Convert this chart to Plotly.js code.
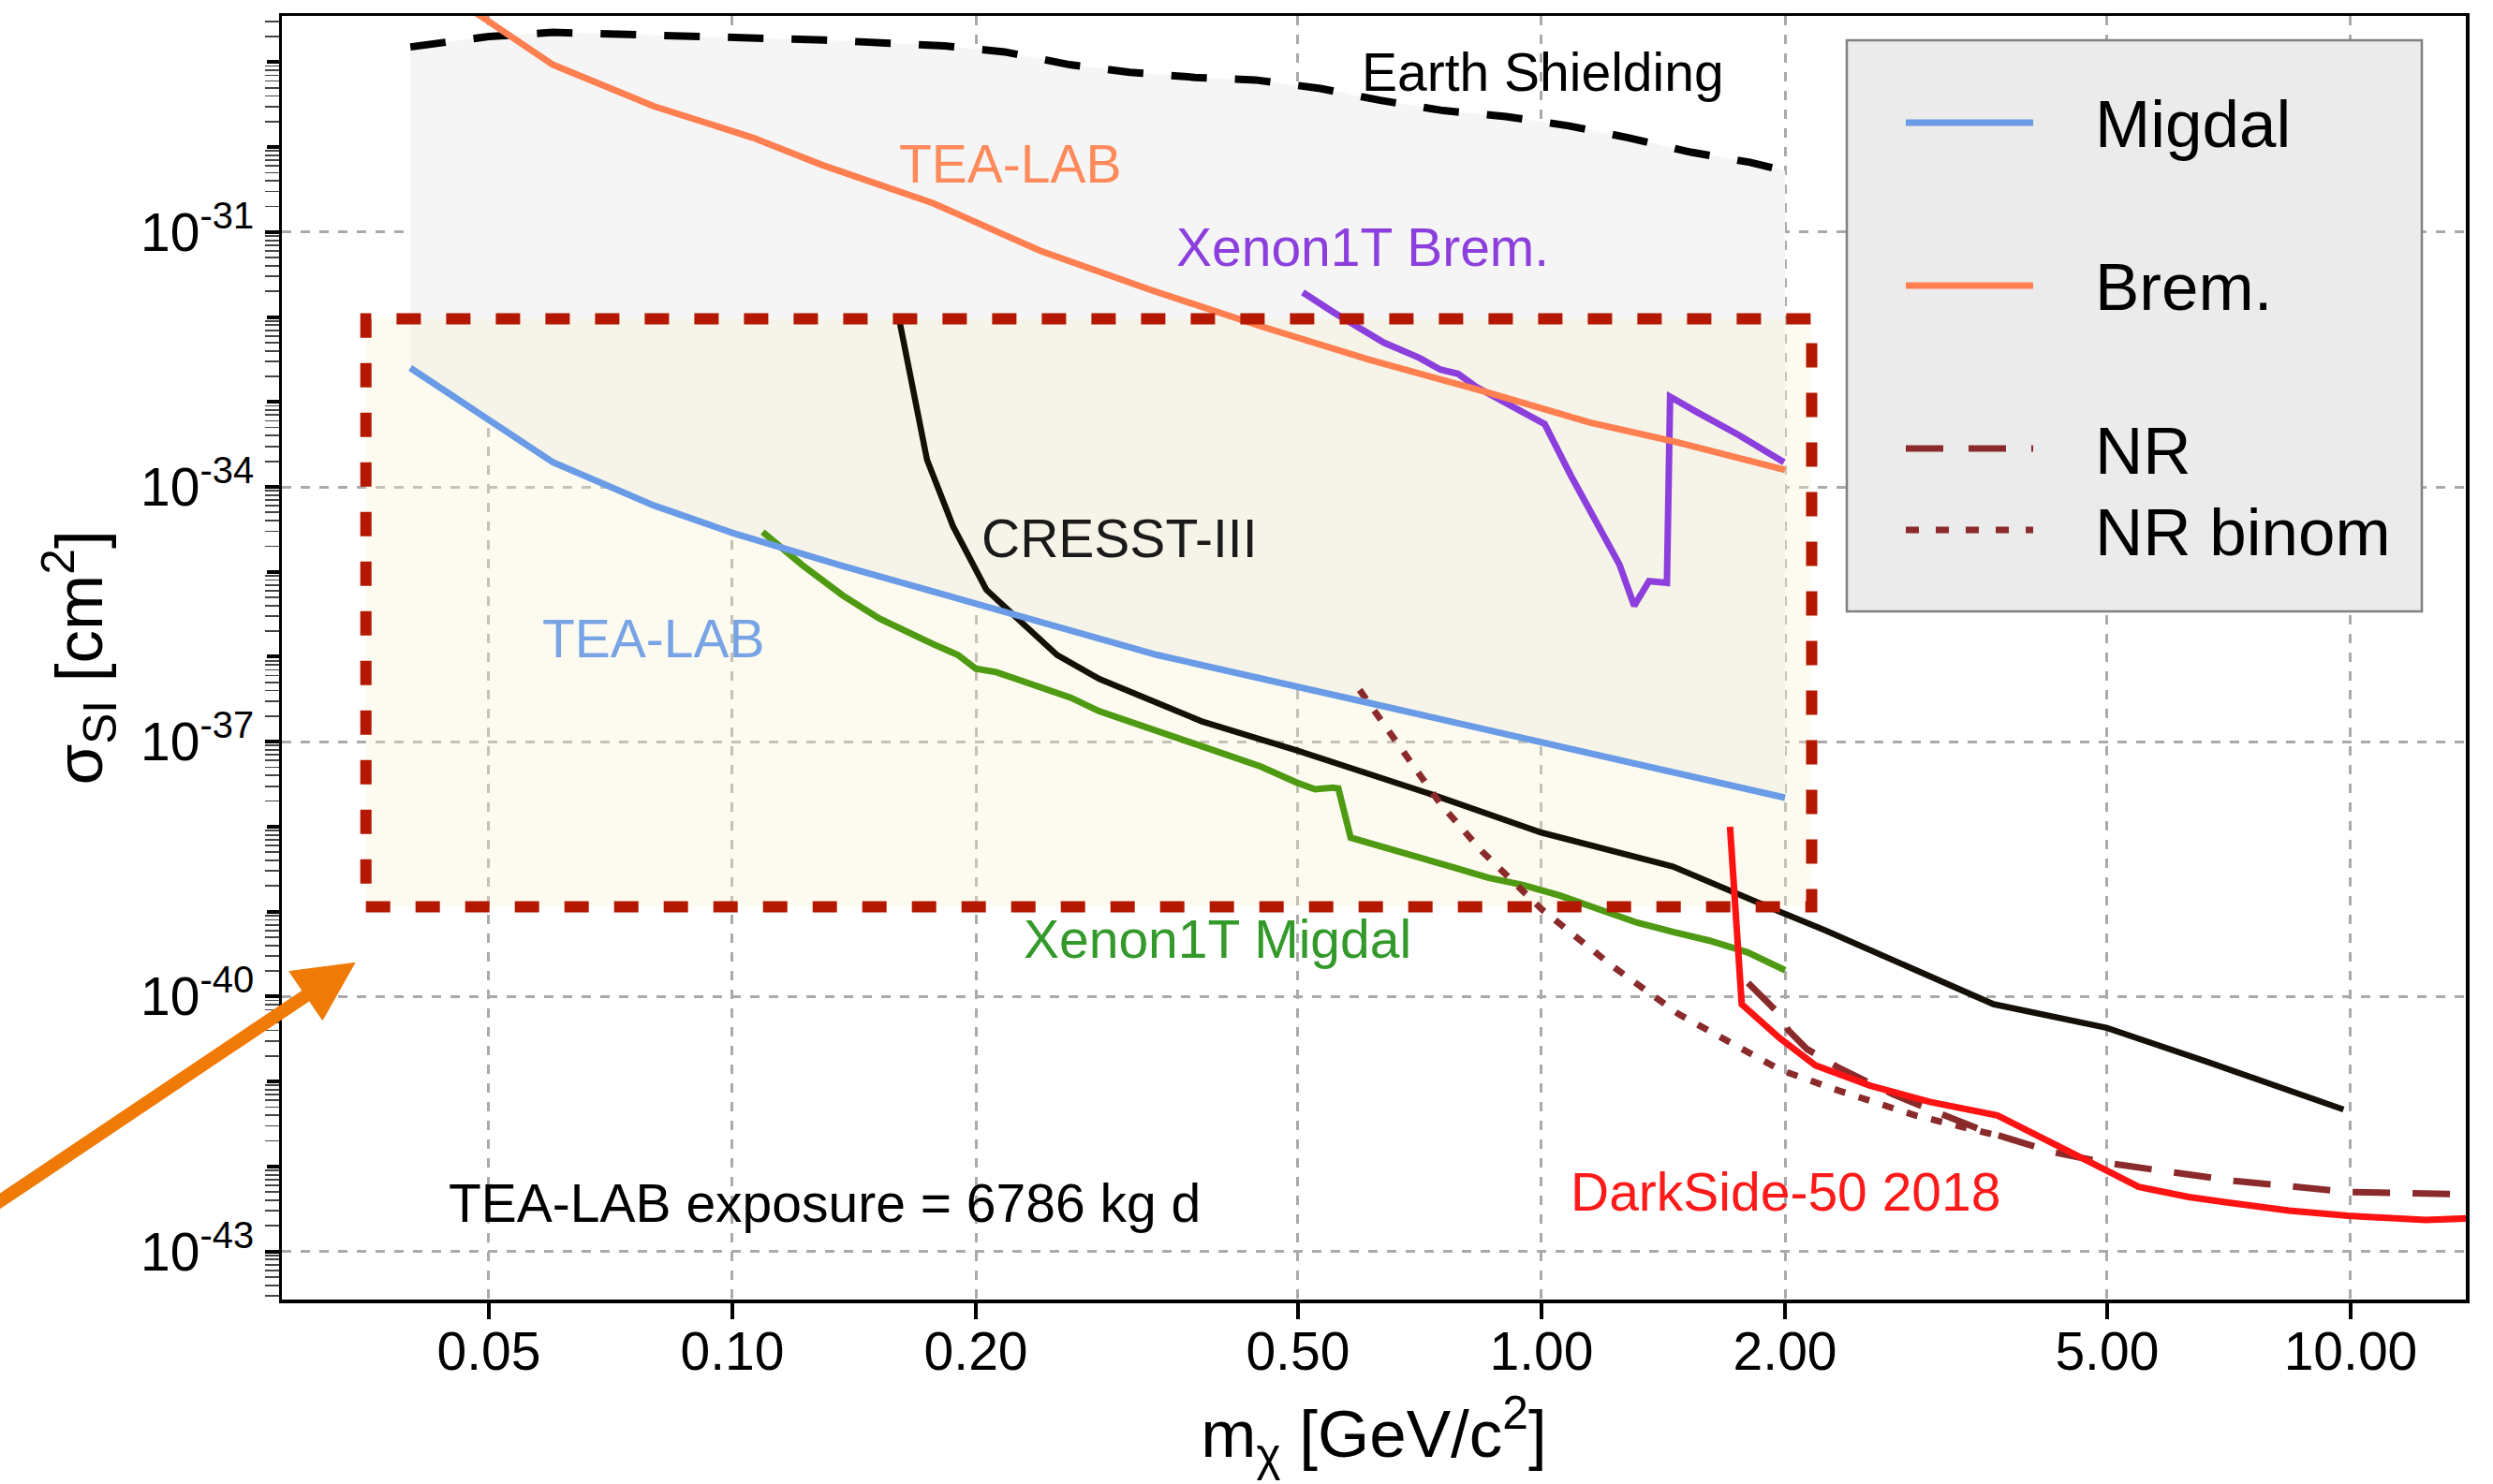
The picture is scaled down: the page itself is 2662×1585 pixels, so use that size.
<!DOCTYPE html>
<html>
<head>
<meta charset="utf-8">
<script src="https://cdn.plot.ly/plotly-3.0.1.min.js"></script>
<style>html,body{margin:0;padding:0;background:#fff;}#chart{width:2662px;height:1585px;}</style>
</head>
<body>
<div id="chart"></div>
<script>
// ---------------- data (m in GeV/c^2, sigma in cm^2) ----------------
const earthM = [0.04, 0.05, 0.06, 0.1, 0.13, 0.183, 0.217, 0.261, 0.31, 0.373, 0.443, 0.533, 0.632, 0.756, 0.904, 1.08, 1.28, 1.53, 1.81, 2.0];
const earthSigma = [1.51e-29, 2.00e-29, 2.24e-29, 1.95e-29, 1.82e-29, 1.55e-29, 1.32e-29, 9.33e-30, 7.59e-30, 6.61e-30, 6.17e-30, 4.90e-30, 3.55e-30, 2.69e-30, 2.29e-30, 1.78e-30, 1.29e-30, 8.71e-31, 6.61e-31, 5.25e-31];

const bremM = [0.04, 0.06, 0.08, 0.106, 0.129, 0.177, 0.24, 0.331, 0.45, 0.611, 0.844, 1.146, 1.479, 2.0];
const bremSigma = [1.26e-28, 9.33e-30, 3.02e-30, 1.29e-30, 6.17e-31, 2.19e-31, 6.03e-32, 2.04e-32, 7.76e-33, 3.16e-33, 1.35e-33, 5.75e-34, 3.31e-34, 1.58e-34];

const migdalM = [0.04, 0.06, 0.08, 0.1, 0.137, 0.217, 0.335, 0.61, 1.0, 2.0];
const migdalSigma = [2.51e-33, 1.95e-34, 6.03e-35, 2.88e-35, 1.17e-35, 3.31e-36, 1.05e-36, 2.88e-37, 9.77e-38, 2.19e-38];

const xenonMigdalM = [0.109, 0.122, 0.137, 0.152, 0.177, 0.19, 0.2, 0.212, 0.224, 0.244, 0.262, 0.284, 0.331, 0.37, 0.406, 0.45, 0.498, 0.525, 0.552, 0.561, 0.581, 0.64, 0.70, 0.78, 0.859, 0.95, 1.053, 1.17, 1.313, 1.45, 1.61, 1.8, 1.97, 2.0];
const xenonMigdalSigma = [2.95e-35, 1.20e-35, 5.25e-36, 2.82e-36, 1.41e-36, 1.05e-36, 7.24e-37, 6.60e-37, 5.50e-37, 4.07e-37, 3.30e-37, 2.29e-37, 1.38e-37, 1.00e-37, 7.24e-38, 5.10e-38, 3.31e-38, 2.75e-38, 2.88e-38, 2.82e-38, 7.41e-39, 5.60e-39, 4.47e-39, 3.30e-39, 2.51e-39, 2.05e-39, 1.55e-39, 1.10e-39, 7.41e-40, 5.80e-40, 4.57e-40, 3.30e-40, 2.24e-40, 2.04e-40];

const cresstM = [0.161, 0.174, 0.1875, 0.206, 0.228, 0.252, 0.284, 0.38, 0.498, 0.737, 1.0, 1.454, 1.97, 2.24, 3.62, 5.0, 6.65, 9.8];
const cresstSigma = [8.71e-33, 2.09e-34, 3.39e-35, 6.17e-36, 2.51e-36, 1.05e-36, 5.50e-37, 1.74e-37, 7.94e-38, 2.34e-38, 8.51e-39, 3.39e-39, 1.00e-39, 6.03e-40, 8.13e-41, 4.27e-41, 1.70e-41, 4.68e-42];

const xenonBremM = [0.507, 0.552, 0.638, 0.706, 0.75, 0.789, 0.83, 0.873, 0.984, 1.009, 1.089, 1.186, 1.248, 1.302, 1.358, 1.429, 1.442, 1.556, 1.754, 1.994];
const xenonBremSigma = [1.95e-32, 1.15e-32, 5.01e-33, 3.31e-33, 2.40e-33, 2.14e-33, 1.51e-33, 1.15e-33, 6.17e-34, 5.50e-34, 1.32e-34, 3.02e-35, 1.23e-35, 3.98e-36, 7.76e-36, 7.41e-36, 1.15e-33, 7.59e-34, 4.07e-34, 1.95e-34];

const darksideM = [1.71, 1.768, 1.97, 2.18, 2.55, 3.02, 3.66, 4.06, 5.0, 5.47, 6.31, 7.0, 8.39, 9.93, 12.38, 14.0];
const darksideSigma = [1.00e-38, 8.13e-41, 3.24e-41, 1.55e-41, 8.91e-42, 5.75e-42, 3.98e-42, 2.45e-42, 8.91e-43, 5.75e-43, 4.37e-43, 3.80e-43, 3.02e-43, 2.63e-43, 2.34e-43, 2.45e-43];

const nrM = [1.80, 1.97, 2.02, 2.13, 2.33, 2.72, 3.02, 3.52, 4.28, 5.0, 5.84, 7.18, 9.93, 14.0];
const nrSigma = [1.45e-40, 6.17e-41, 3.98e-41, 2.40e-41, 1.45e-41, 7.08e-42, 4.68e-42, 2.63e-42, 1.48e-42, 1.10e-42, 8.91e-43, 6.76e-43, 5.01e-43, 4.68e-43];

const nrBinomM = [0.596, 0.677, 0.75, 0.844, 1.0, 1.227, 1.479, 1.97, 2.30, 2.90, 3.60];
const nrBinomSigma = [4.07e-37, 7.24e-38, 1.86e-38, 5.13e-39, 1.07e-39, 2.24e-40, 6.17e-41, 1.38e-41, 8.13e-42, 3.98e-42, 2.40e-42];

// ticks
const xTickVals = [0.05, 0.1, 0.2, 0.5, 1, 2, 5, 10];
const xTickText = ['0.05', '0.10', '0.20', '0.50', '1.00', '2.00', '5.00', '10.00'];
const yTickVals = [1e-43, 1e-40, 1e-37, 1e-34, 1e-31];
const yTickText = ['10<sup>-43</sup>', '10<sup>-40</sup>', '10<sup>-37</sup>', '10<sup>-34</sup>', '10<sup>-31</sup>'];

// legend entries
const legendNames = ['Migdal', 'Brem.', 'NR', 'NR binom'];

// ---------------- layout geometry ----------------
const W = 2662, H = 1585;
const FRAME = {l: 301, r: 2633, t: 17, b: 1388};
const X_RANGE = [-1.5567, 1.1424];
const Y_RANGE = [-43.567, -28.456];
const px = X => (X - FRAME.l) / (FRAME.r - FRAME.l);
const py = Y => (FRAME.b - Y) / (FRAME.b - FRAME.t);
const dataX = X => Math.pow(10, X_RANGE[0] + px(X) * (X_RANGE[1] - X_RANGE[0]));
const dataY = Y => Math.pow(10, Y_RANGE[0] + py(Y) * (Y_RANGE[1] - Y_RANGE[0]));

const FONT = 'Liberation Sans, Arial, Helvetica, sans-serif';
const C = {
  migdal: '#6a9be6', brem: '#ff7f50', xbrem: '#8c3fdc', xmig: '#4e9a12',
  cresst: '#141008', ds: '#ff1212', nr: '#8b2a2a', box: '#b41800', arrow: '#ef7a06'
};

// highlight box (pixel frame of the slide overlay)
const BOX = {x0: 390.7, x1: 1934.5, y0: 340.5, y1: 968.6};

// minor log ticks
const minorVals = [];
for (let k = -44; k <= -28; k++) {
  for (let d = 2; d <= 9; d++) minorVals.push(d * Math.pow(10, k));
}
const decadeVals = [];
for (let k = -43; k <= -29; k++) decadeVals.push(Math.pow(10, k));

// ---------------- traces ----------------
const traces = [];
// grey region between Migdal and Earth shielding
traces.push({x: migdalM, y: migdalSigma, mode: 'lines', line: {width: 0}, showlegend: false, hoverinfo: 'skip'});
traces.push({x: earthM, y: earthSigma, mode: 'lines', line: {width: 0}, fill: 'tonexty', fillcolor: '#f5f5f5', showlegend: false, hoverinfo: 'skip'});
// translucent highlight box fill
traces.push({
  x: [dataX(BOX.x0), dataX(BOX.x1), dataX(BOX.x1), dataX(BOX.x0), dataX(BOX.x0)],
  y: [dataY(BOX.y1), dataY(BOX.y1), dataY(BOX.y0), dataY(BOX.y0), dataY(BOX.y1)],
  mode: 'lines', line: {width: 0}, fill: 'toself', fillcolor: 'rgba(250,243,205,0.33)', showlegend: false, hoverinfo: 'skip'
});
// curves
traces.push({name: 'Earth Shielding', x: earthM, y: earthSigma, mode: 'lines', line: {color: '#000', width: 8, dash: '38px,30px'}, showlegend: false});
traces.push({name: 'Xenon1T Migdal', x: xenonMigdalM, y: xenonMigdalSigma, mode: 'lines', line: {color: C.xmig, width: 7}, showlegend: false});
traces.push({name: 'CRESST-III', x: cresstM, y: cresstSigma, mode: 'lines', line: {color: C.cresst, width: 6.5}, showlegend: false});
traces.push({name: 'Xenon1T Brem.', x: xenonBremM, y: xenonBremSigma, mode: 'lines', line: {color: C.xbrem, width: 7}, showlegend: false});
traces.push({name: 'NR binom', x: nrBinomM, y: nrBinomSigma, mode: 'lines', line: {color: C.nr, width: 7, dash: '12px,15px'}, showlegend: false});
traces.push({name: 'NR', x: nrM, y: nrSigma, mode: 'lines', line: {color: C.nr, width: 7, dash: '40px,24px'}, showlegend: false});
traces.push({name: 'DarkSide-50 2018', x: darksideM, y: darksideSigma, mode: 'lines', line: {color: C.ds, width: 7}, showlegend: false});
traces.push({name: 'Migdal', x: migdalM, y: migdalSigma, mode: 'lines', line: {color: C.migdal, width: 7}, showlegend: false});
traces.push({name: 'Brem.', x: bremM, y: bremSigma, mode: 'lines', line: {color: C.brem, width: 7}, showlegend: false});
// carrier for the overlay axis that draws the long decade ticks
traces.push({x: [], y: [], yaxis: 'y2', mode: 'lines', showlegend: false, hoverinfo: 'skip'});

// ---------------- annotations ----------------
const textLabels = [
  {text: 'Earth Shielding', X: 1647, Y: 77, color: '#000000'},
  {text: 'TEA-LAB', X: 1079, Y: 175, color: '#ff8a5c'},
  {text: 'Xenon1T Brem.', X: 1455, Y: 264, color: '#8c3fdc'},
  {text: 'CRESST-III', X: 1195, Y: 575, color: '#1a1a1a'},
  {text: 'TEA-LAB', X: 698, Y: 682, color: '#78a4e6'},
  {text: 'Xenon1T Migdal', X: 1300, Y: 1003, color: '#33992a'},
  {text: 'DarkSide-50 2018', X: 1906, Y: 1273, color: '#ff1a1a'},
  {text: 'TEA-LAB exposure = 6786 kg d', X: 880, Y: 1285, color: '#000000'}
];
const annotations = textLabels.map(t => ({
  xref: 'paper', yref: 'paper', x: px(t.X), y: py(t.Y), xanchor: 'center', yanchor: 'middle',
  text: t.text, showarrow: false, font: {family: FONT, size: 57, color: t.color}
}));

// manual legend
const LEG = {x0: 1972, x1: 2586, y0: 43, y1: 653, lineX0: 2035, lineX1: 2171, textX: 2235};
const legendRows = [
  {name: legendNames[0], Y: 131, color: C.migdal, dash: 'solid'},
  {name: legendNames[1], Y: 305, color: C.brem, dash: 'solid'},
  {name: legendNames[2], Y: 479, color: C.nr, dash: '40px,27px'},
  {name: legendNames[3], Y: 566, color: C.nr, dash: '14px,18px'}
];
const shapes = [];
shapes.push({type: 'rect', xref: 'paper', yref: 'paper', x0: px(LEG.x0), x1: px(LEG.x1), y0: py(LEG.y1), y1: py(LEG.y0),
  fillcolor: '#ebebeb', line: {color: '#808080', width: 2.5}, layer: 'above'});
legendRows.forEach(r => {
  shapes.push({type: 'line', xref: 'paper', yref: 'paper', x0: px(LEG.lineX0), x1: px(LEG.lineX1), y0: py(r.Y), y1: py(r.Y),
    line: {color: r.color, width: 7, dash: r.dash}, layer: 'above'});
  annotations.push({xref: 'paper', yref: 'paper', x: px(LEG.textX), y: py(r.Y + 2), xanchor: 'left', yanchor: 'middle',
    text: r.name, showarrow: false, font: {family: FONT, size: 71, color: '#000'}});
});

// highlight box border
shapes.push({type: 'rect', xref: 'paper', yref: 'paper', x0: px(BOX.x0), x1: px(BOX.x1), y0: py(BOX.y1), y1: py(BOX.y0),
  line: {color: C.box, width: 12, dash: '26px,27px'}, fillcolor: 'rgba(0,0,0,0)', layer: 'above'});

// orange arrow
const ARROW = {tail: [-12, 1291], base: [326.6, 1063.5], tip: [378.9, 1028.4], c1: [308.8, 1037.5], c2: [344.4, 1089.4]};
shapes.push({type: 'line', xref: 'paper', yref: 'paper', x0: px(ARROW.tail[0]), y0: py(ARROW.tail[1]), x1: px(ARROW.base[0]), y1: py(ARROW.base[1]),
  line: {color: C.arrow, width: 14}, layer: 'above'});
shapes.push({type: 'path', xref: 'paper', yref: 'paper',
  path: `M ${px(ARROW.tip[0])},${py(ARROW.tip[1])} L ${px(ARROW.c1[0])},${py(ARROW.c1[1])} L ${px(ARROW.c2[0])},${py(ARROW.c2[1])} Z`,
  fillcolor: C.arrow, line: {color: C.arrow, width: 1}, layer: 'above'});

// ---------------- layout ----------------
const gridStyle = {showgrid: true, gridcolor: '#aaaaaa', gridwidth: 3, griddash: '10px,10px'};
const layout = {
  width: W, height: H,
  margin: {l: FRAME.l, r: W - FRAME.r, t: FRAME.t, b: H - FRAME.b, pad: 0},
  paper_bgcolor: '#ffffff', plot_bgcolor: '#ffffff',
  font: {family: FONT, color: '#000', size: 54},
  showlegend: false,
  hovermode: false,
  xaxis: Object.assign({
    type: 'log', range: X_RANGE, autorange: false,
    tickmode: 'array', tickvals: xTickVals, ticktext: xTickText,
    ticks: 'outside', ticklen: 17, tickwidth: 4, tickcolor: '#000',
    ticklabelstandoff: -14,
    tickfont: {family: FONT, size: 57, color: '#000'},
    showline: true, linewidth: 3.5, linecolor: '#000', mirror: true, zeroline: false,
    title: {text: 'm<sub>χ</sub> [GeV/c<sup>2</sup>]', font: {family: FONT, size: 71, color: '#000'}, standoff: 33}
  }, gridStyle),
  yaxis: Object.assign({
    type: 'log', range: Y_RANGE, autorange: false,
    tickmode: 'array', tickvals: yTickVals, ticktext: yTickText,
    ticks: 'outside', ticklen: 15, tickwidth: 4, tickcolor: '#000',
    tickfont: {family: FONT, size: 57, color: '#000'},
    showline: true, linewidth: 3.5, linecolor: '#000', mirror: true, zeroline: false,
    minor: {tickmode: 'array', tickvals: minorVals, ticks: 'outside', ticklen: 15, tickwidth: 1.8, tickcolor: '#444', showgrid: false},
    title: {text: 'σ<sub>SI</sub> [cm<sup>2</sup>]', font: {family: FONT, size: 71, color: '#000'}, standoff: 18}
  }, gridStyle),
  yaxis2: {
    type: 'log', range: Y_RANGE, autorange: false, overlaying: 'y', side: 'left',
    tickmode: 'array', tickvals: decadeVals, ticks: 'outside', ticklen: 15, tickwidth: 4, tickcolor: '#000',
    showticklabels: false, showgrid: false, showline: false, zeroline: false
  },
  annotations: annotations,
  shapes: shapes
};

Plotly.newPlot('chart', traces, layout, {staticPlot: true, displayModeBar: false});
</script>
</body>
</html>
